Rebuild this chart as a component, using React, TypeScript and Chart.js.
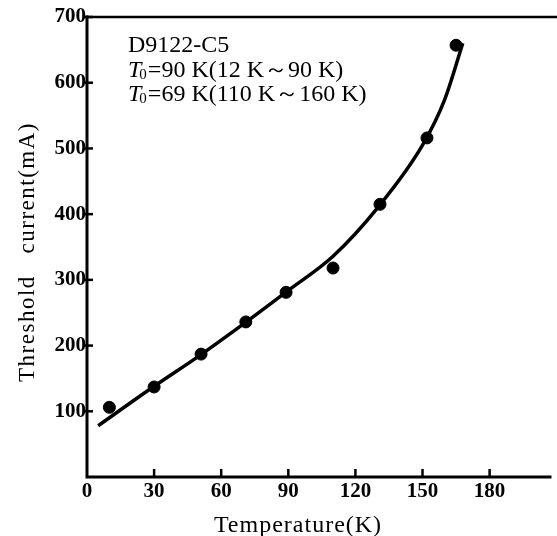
import React, { useEffect, useRef } from 'react';
import { Chart, registerables } from 'chart.js';

Chart.register(...registerables);

// Measured points (temperature K, threshold current mA)
const measuredTemps = [10, 30, 51, 71, 89, 110, 131, 152, 165];
const measuredCurrents = [106, 137, 187, 236, 281, 318, 415, 516, 657];

// Fitted curve
const fitTemps = [5, 30, 50, 70, 90, 110, 130, 150, 160, 168];
const fitCurrents = [78, 138, 184, 233, 284, 336, 410, 505, 575, 660];

const xTickValues = [0, 30, 60, 90, 120, 150, 180];
const yTickValues = [100, 200, 300, 400, 500, 600, 700];

const sampleName = 'D9122-C5';
const fitLine1 = '=90 K(12 K～90 K)';
const fitLine2 = '=69 K(110 K～160 K)';
const xTitle = 'Temperature(K)';
const yTitle = 'Threshold   current(mA)';

const FONT = '"Liberation Serif", "Times New Roman", serif';

const framePlugin = {
  id: 'framePlugin',
  afterDraw(chart: any) {
    const { ctx, chartArea, scales } = chart;
    const { left, right, top, bottom } = chartArea;
    ctx.save();
    ctx.strokeStyle = '#000';
    ctx.lineCap = 'square';
    // axes
    ctx.lineWidth = 3;
    ctx.beginPath();
    ctx.moveTo(left, top);
    ctx.lineTo(left, bottom);
    ctx.lineTo(right, bottom);
    ctx.stroke();
    // top frame line
    ctx.lineWidth = 2.5;
    ctx.beginPath();
    ctx.moveTo(left, top);
    ctx.lineTo(chart.width, top);
    ctx.stroke();
    // ticks
    ctx.lineWidth = 2.5;
    ctx.lineCap = 'butt';
    xTickValues.forEach((v) => {
      if (v === 0) return;
      const x = scales.x.getPixelForValue(v);
      ctx.beginPath();
      ctx.moveTo(x, bottom);
      ctx.lineTo(x, bottom - 8);
      ctx.stroke();
    });
    yTickValues.forEach((v) => {
      const y = scales.y.getPixelForValue(v);
      ctx.beginPath();
      ctx.moveTo(left - 3, y);
      ctx.lineTo(left + 6, y);
      ctx.stroke();
    });
    // axis titles
    ctx.fillStyle = '#000';
    ctx.textAlign = 'center';
    ctx.textBaseline = 'alphabetic';
    ctx.font = `24px ${FONT}`;
    (ctx as any).letterSpacing = '1px';
    ctx.fillText(xTitle, 298, 532);
    ctx.save();
    ctx.translate(28, 252);
    ctx.rotate(-Math.PI / 2);
    ctx.textBaseline = 'middle';
    ctx.font = `23px ${FONT}`;
    (ctx as any).letterSpacing = '1.5px';
    ctx.fillText(yTitle, 0, 0);
    ctx.restore();
    (ctx as any).letterSpacing = '0px';
    // annotation
    ctx.textAlign = 'left';
    ctx.textBaseline = 'alphabetic';
    ctx.font = `24px ${FONT}`;
    const ax = 128;
    ctx.fillText(sampleName, ax, 52);
    const drawT0 = (text: string, y: number) => {
      ctx.font = `italic 24px ${FONT}`;
      ctx.fillText('T', ax, y);
      const tw = ctx.measureText('T').width;
      ctx.font = `15px ${FONT}`;
      ctx.fillText('0', ax + tw - 2, y + 2);
      const zw = ctx.measureText('0').width;
      ctx.font = `24px ${FONT}`;
      ctx.fillText(text, ax + tw + zw - 1, y);
    };
    drawT0(fitLine1, 77);
    drawT0(fitLine2, 101);
    ctx.restore();
  },
};

export default function App() {
  const canvasRef = useRef<HTMLCanvasElement | null>(null);

  useEffect(() => {
    if (!canvasRef.current) return;
    const chart = new Chart(canvasRef.current, {
      type: 'scatter',
      data: {
        datasets: [
          {
            label: 'fit',
            data: fitTemps.map((t, i) => ({ x: t, y: fitCurrents[i] })),
            showLine: true,
            borderColor: '#000',
            borderWidth: 3.5,
            pointRadius: 0,
            tension: 0.4,
            cubicInterpolationMode: 'monotone',
            fill: false,
          } as any,
          {
            label: 'measured',
            data: measuredTemps.map((t, i) => ({ x: t, y: measuredCurrents[i] })),
            backgroundColor: '#000',
            borderColor: '#000',
            pointRadius: 6,
            pointHoverRadius: 6,
            showLine: false,
          },
        ],
      },
      options: {
        animation: false,
        responsive: false,
        maintainAspectRatio: false,
        layout: { padding: { top: 17, right: 7, left: 0, bottom: 0 } },
        plugins: {
          legend: { display: false },
          tooltip: { enabled: false },
        },
        scales: {
          x: {
            type: 'linear',
            min: 0,
            max: 207,
            afterFit: (s: any) => {
              s.height = 59;
            },
            afterBuildTicks: (s: any) => {
              s.ticks = xTickValues.map((v) => ({ value: v }));
            },
            grid: { display: false, drawTicks: false },
            border: { display: false },
            ticks: {
              color: '#000',
              padding: 2,
              font: { family: FONT, size: 21, weight: 'bold' },
              maxRotation: 0,
            },
          },
          y: {
            type: 'linear',
            min: 0,
            max: 700,
            afterFit: (s: any) => {
              s.width = 87;
            },
            afterBuildTicks: (s: any) => {
              s.ticks = yTickValues.map((v) => ({ value: v }));
            },
            grid: { display: false, drawTicks: false },
            border: { display: false },
            ticks: {
              color: '#000',
              padding: 1,
              font: { family: FONT, size: 21, weight: 'bold' },
            },
          },
        },
      },
      plugins: [framePlugin],
    });
    return () => chart.destroy();
  }, []);

  return (
    <div style={{ position: 'fixed', left: 0, top: 0, width: 557, height: 536, background: '#fff' }}>
      <canvas ref={canvasRef} width={557} height={536} style={{ display: 'block' }} />
    </div>
  );
}
